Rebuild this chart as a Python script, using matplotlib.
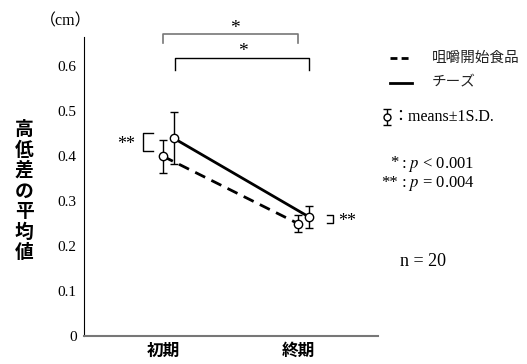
import matplotlib.pyplot as plt

plt.rcParams['mathtext.fontset'] = 'stix'

# data
categories = ['初期', '終期']
series_names = ['咀嚼開始食品', 'チーズ']
food_mean = [0.40, 0.25]
food_sd = [0.037, 0.019]
cheese_mean = [0.44, 0.265]
cheese_sd = [0.058, 0.025]
yticks = [0, 0.1, 0.2, 0.3, 0.4, 0.5, 0.6]

serif = ['Liberation Serif', 'Noto Sans CJK JP']
gothic = ['Noto Sans CJK JP', 'DejaVu Sans']

fig = plt.figure(figsize=(5.27, 3.64), dpi=100)
ax = fig.add_axes([0.159, 0.077, 0.558, 0.821])

x = [0, 1]
x_cheese = [v + 0.08 for v in x]

ax.errorbar(x, food_mean, yerr=food_sd, color='black', lw=2, ls=(0, (4, 2.5)),
            marker='o', ms=6, mfc='white', mec='black', mew=1,
            ecolor='black', elinewidth=1, capsize=3, capthick=1, zorder=3)
ax.errorbar(x_cheese, cheese_mean, yerr=cheese_sd, color='black', lw=2,
            marker='o', ms=6, mfc='white', mec='black', mew=1,
            ecolor='black', elinewidth=1, capsize=3, capthick=1, zorder=4)

ax.set_xlim(-0.585, 1.59)
ax.set_ylim(0, 0.665)
ax.set_yticks(yticks)
ax.set_yticklabels(['0' if v == 0 else f'{v:.1f}' for v in yticks],
                   family=serif, fontsize=11)
ax.tick_params(axis='y', length=0, pad=5)
ax.set_xticks(x)
ax.set_xticklabels(categories, family=gothic, fontsize=12, fontweight='bold')
ax.tick_params(axis='x', length=0, pad=4)
ax.spines['top'].set_visible(False)
ax.spines['right'].set_visible(False)
ax.spines['left'].set_color('black')
ax.spines['bottom'].set_color('#777777')
ax.spines['bottom'].set_linewidth(1.5)

# y label, stacked vertically
fig.text(0.046, 0.475, '\n'.join('高低差の平均値'), family=gothic, fontsize=13.5,
         fontweight='bold', ha='center', va='center', linespacing=1.1)
fig.text(0.125, 0.94, '（cm）', family=serif, fontsize=11.5, ha='center', va='center')

# significance brackets (top)
ax.plot([0, 0, 1, 1], [0.651, 0.671, 0.671, 0.651], color='#777777', lw=1.2, clip_on=False)
ax.text(0.53, 0.685, '*', family=serif, fontsize=14, ha='center', va='center')
ax.plot([0.09, 0.09, 1.08, 1.08], [0.591, 0.618, 0.618, 0.591], color='black', lw=1, clip_on=False)
ax.text(0.59, 0.632, '*', family=serif, fontsize=14, ha='center', va='center')

# within-period brackets
ax.plot([-0.074, -0.148, -0.148, -0.074], [0.451, 0.451, 0.411, 0.411], color='black', lw=1)
ax.text(-0.27, 0.425, '**', family=serif, fontsize=13, ha='center', va='center')
ax.plot([1.215, 1.26, 1.26, 1.215], [0.269, 0.269, 0.251, 0.251], color='black', lw=1)
ax.text(1.36, 0.255, '**', family=serif, fontsize=13, ha='center', va='center')

# legend
ax.plot([1.68, 1.84], [0.618, 0.618], color='black', lw=2, ls=(0, (2.5, 1.5)), clip_on=False)
ax.text(1.99, 0.618, series_names[0], family=gothic, fontsize=10.5, va='center', color='#222222')
ax.plot([1.68, 1.84], [0.564, 0.564], color='black', lw=2, clip_on=False)
ax.text(1.99, 0.564, series_names[1], family=gothic, fontsize=10.5, va='center',
        color='#222222', style='italic')

ax.errorbar([1.66], [0.487], yerr=[0.017], color='black', marker='o', ms=5,
            mfc='white', mec='black', mew=1, elinewidth=1, capsize=3,
            capthick=1, clip_on=False)
ax.text(1.70, 0.487, '：means±1S.D.', family=serif, fontsize=11.5, va='center')
ax.text(1.71, 0.384, '*', family=serif, fontsize=12, ha='center', va='center')
ax.text(1.76, 0.382, ': $p$ < 0.001', family=serif, fontsize=12, va='center')
ax.text(1.68, 0.340, '**', family=serif, fontsize=12, ha='center', va='center')
ax.text(1.76, 0.340, ': $p$ = 0.004', family=serif, fontsize=12, va='center')
ax.text(1.755, 0.165, 'n = 20', family=serif, fontsize=13, va='center')

plt.savefig('out.png', dpi=100)
